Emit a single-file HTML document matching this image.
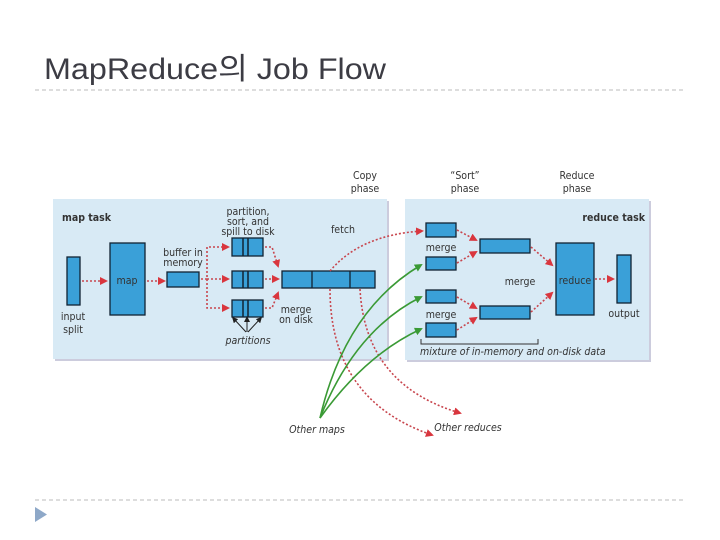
<!DOCTYPE html>
<html><head><meta charset="utf-8"><style>
html,body{margin:0;padding:0;background:#fff;}
svg{display:block}
text{font-family:"Liberation Sans","Noto Sans CJK KR",sans-serif;}
.t{font-family:"DejaVu Sans Condensed","Liberation Sans",sans-serif;font-size:10.5px;fill:#333;}
.b{fill:#3aa0d8;stroke:#123;stroke-width:1.3}
.r{fill:none;stroke:#c8464e;stroke-width:1.6;stroke-dasharray:2 2}
.g{fill:none;stroke:#3a9a35;stroke-width:1.6}
</style></head><body>
<svg width="720" height="540" viewBox="0 0 720 540" xmlns="http://www.w3.org/2000/svg">
<defs>
<marker id="ar" markerWidth="8" markerHeight="8" refX="6" refY="4" orient="auto" markerUnits="userSpaceOnUse"><path d="M0,0 L8,4 L0,8 z" fill="#d9363e"/></marker>
<marker id="ag" markerWidth="8" markerHeight="8" refX="6" refY="4" orient="auto" markerUnits="userSpaceOnUse"><path d="M0,0 L8,4 L0,8 z" fill="#3a9a35"/></marker>
<marker id="ak" markerWidth="6" markerHeight="6" refX="3" refY="3" orient="auto" markerUnits="userSpaceOnUse"><path d="M0,0 L6,3 L0,6 z" fill="#222"/></marker>
</defs>
<text x="44" y="79" font-size="30" fill="#3c3c44" textLength="342" lengthAdjust="spacingAndGlyphs">MapReduce의 Job Flow</text>
<line x1="35" y1="90" x2="686" y2="90" stroke="#bbb" stroke-dasharray="4 3"/>
<line x1="35" y1="500" x2="686" y2="500" stroke="#bbb" stroke-dasharray="4 3"/>
<path d="M35,507 L47,514.5 L35,522 z" fill="#8ea8c8"/>

<rect x="55" y="201" width="334" height="160" fill="#ccd"/>
<rect x="407" y="201" width="244" height="161" fill="#ccd"/>
<rect x="53" y="199" width="334" height="160" fill="#d8eaf5"/>
<rect x="405" y="199" width="244" height="161" fill="#d8eaf5"/>

<text class="t" x="62" y="221" font-weight="bold" fill="#111" font-size="12">map task</text>
<text class="t" x="645" y="221" font-weight="bold" fill="#111" font-size="12" text-anchor="end">reduce task</text>
<text class="t" x="365" y="179" text-anchor="middle">Copy</text><text class="t" x="365" y="192" text-anchor="middle">phase</text>
<text class="t" x="465" y="179" text-anchor="middle">“Sort”</text><text class="t" x="465" y="192" text-anchor="middle">phase</text>
<text class="t" x="577" y="179" text-anchor="middle">Reduce</text><text class="t" x="577" y="192" text-anchor="middle">phase</text>

<rect class="b" x="67" y="257" width="13" height="48"/>
<rect class="b" x="110" y="243" width="35" height="72"/>
<text class="t" x="127" y="284" text-anchor="middle" fill="#cfe6f5" font-size="12">map</text>
<rect class="b" x="167" y="272" width="32" height="15"/>
<g>
<rect class="b" x="232" y="238" width="31" height="18"/><line x1="243" y1="238" x2="243" y2="256" stroke="#123" stroke-width="1.5"/><line x1="248" y1="238" x2="248" y2="256" stroke="#123" stroke-width="1.5"/>
<rect class="b" x="232" y="271" width="31" height="17"/><line x1="243" y1="271" x2="243" y2="288" stroke="#123" stroke-width="1.5"/><line x1="248" y1="271" x2="248" y2="288" stroke="#123" stroke-width="1.5"/>
<rect class="b" x="232" y="300" width="31" height="17"/><line x1="243" y1="300" x2="243" y2="317" stroke="#123" stroke-width="1.5"/><line x1="248" y1="300" x2="248" y2="317" stroke="#123" stroke-width="1.5"/>
</g>
<rect class="b" x="282" y="271" width="93" height="17"/>
<line x1="312" y1="271" x2="312" y2="288" stroke="#123" stroke-width="1.3"/>
<line x1="350" y1="271" x2="350" y2="288" stroke="#123" stroke-width="1.3"/>

<text class="t" x="73" y="320" text-anchor="middle" font-size="12">input</text><text class="t" x="73" y="333" text-anchor="middle" font-size="12">split</text>
<text class="t" x="183" y="256" text-anchor="middle">buffer in</text><text class="t" x="183" y="266" text-anchor="middle">memory</text>
<text class="t" x="248" y="215" text-anchor="middle">partition,</text><text class="t" x="248" y="225" text-anchor="middle">sort, and</text><text class="t" x="248" y="235" text-anchor="middle">spill to disk</text>
<text class="t" x="296" y="313" text-anchor="middle">merge</text><text class="t" x="296" y="323" text-anchor="middle">on disk</text>
<text class="t" x="248" y="344" text-anchor="middle" font-style="italic">partitions</text>
<text class="t" x="343" y="233" text-anchor="middle">fetch</text>
<line x1="246" y1="332" x2="234" y2="319" stroke="#222" marker-end="url(#ak)"/>
<line x1="247" y1="332" x2="247" y2="319" stroke="#222" marker-end="url(#ak)"/>
<line x1="248" y1="332" x2="260" y2="319" stroke="#222" marker-end="url(#ak)"/>

<line class="r" x1="82" y1="281" x2="106" y2="281" marker-end="url(#ar)"/>
<line class="r" x1="147" y1="281" x2="164" y2="281" marker-end="url(#ar)"/>
<path class="r" d="M201,279 H207 V247 H228" marker-end="url(#ar)"/>
<line class="r" x1="207" y1="279" x2="228" y2="279" marker-end="url(#ar)"/>
<path class="r" d="M207,279 V308 H228" marker-end="url(#ar)"/>
<path class="r" d="M265,247 H272 L278,266" marker-end="url(#ar)"/>
<line class="r" x1="265" y1="279" x2="278" y2="279" marker-end="url(#ar)"/>
<path class="r" d="M265,308 H272 L278,293" marker-end="url(#ar)"/>
<path class="r" d="M330,271 Q360,235 422,231" marker-end="url(#ar)"/>

<rect class="b" x="426" y="223" width="30" height="14"/>
<rect class="b" x="426" y="257" width="30" height="13"/>
<rect class="b" x="426" y="290" width="30" height="13"/>
<rect class="b" x="426" y="323" width="30" height="14"/>
<rect class="b" x="480" y="239" width="50" height="14"/>
<rect class="b" x="480" y="306" width="50" height="13"/>
<rect class="b" x="556" y="243" width="38" height="72"/>
<text class="t" x="575" y="284" text-anchor="middle" fill="#cfe6f5" font-size="12">reduce</text>
<rect class="b" x="617" y="255" width="14" height="48"/>
<text class="t" x="441" y="251" text-anchor="middle">merge</text>
<text class="t" x="441" y="318" text-anchor="middle">merge</text>
<text class="t" x="520" y="285" text-anchor="middle">merge</text>
<text class="t" x="624" y="317" text-anchor="middle" font-size="12">output</text>
<text class="t" x="420" y="355" font-style="italic">mixture of in-memory and on-disk data</text>
<path d="M421,339 V344 H538 V339" fill="none" stroke="#333"/>

<line class="r" x1="457" y1="230" x2="476" y2="240" marker-end="url(#ar)"/>
<line class="r" x1="457" y1="263" x2="476" y2="252" marker-end="url(#ar)"/>
<line class="r" x1="457" y1="297" x2="476" y2="308" marker-end="url(#ar)"/>
<line class="r" x1="457" y1="330" x2="476" y2="318" marker-end="url(#ar)"/>
<line class="r" x1="531" y1="247" x2="552" y2="265" marker-end="url(#ar)"/>
<line class="r" x1="531" y1="312" x2="552" y2="293" marker-end="url(#ar)"/>
<line class="r" x1="595" y1="279" x2="613" y2="279" marker-end="url(#ar)"/>

<path class="r" d="M330,289 Q330,400 432,435" marker-end="url(#ar)"/>
<path class="r" d="M360,289 Q365,385 460,413" marker-end="url(#ar)"/>
<path class="g" d="M320,418 Q345,310 421,265" marker-end="url(#ag)"/>
<path class="g" d="M320,418 Q355,330 421,297" marker-end="url(#ag)"/>
<path class="g" d="M320,418 Q365,355 421,329" marker-end="url(#ag)"/>
<text class="t" x="317" y="433" text-anchor="middle" font-style="italic">Other maps</text>
<text class="t" x="468" y="431" text-anchor="middle" font-style="italic">Other reduces</text>
</svg>
</body></html>
